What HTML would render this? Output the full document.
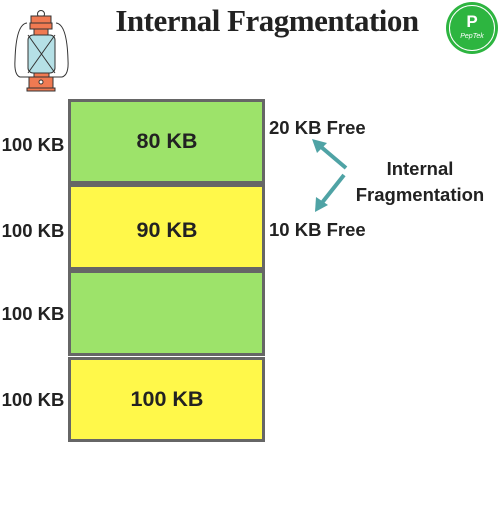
<!DOCTYPE html>
<html><head><style>
body{margin:0;width:500px;height:500px;background:#fff;overflow:hidden}
svg text{font-family:"Liberation Sans",sans-serif;font-weight:bold;fill:#222}
</style></head><body>
<svg width="500" height="500" viewBox="0 0 500 500">
<text x="267" y="31" text-anchor="middle" style="font-family:'Liberation Serif',serif;font-size:31px;font-weight:900;letter-spacing:-0.5px" fill="#222">Internal Fragmentation</text>
<!-- lantern -->
<g stroke="#333" stroke-width="1">
<circle cx="41" cy="14" r="3.5" fill="none"/>
<path d="M27 23 Q16 24 15 60 Q14 75 20 77 L62 77 Q69 75 68 60 Q67 24 56 23" fill="none"/>
<rect x="31" y="16" width="20" height="7" fill="#f07a52"/>
<rect x="30" y="23" width="22" height="6" fill="#f07a52"/>
<rect x="34" y="29" width="14" height="6" fill="#f07a52"/>
<rect x="28" y="35" width="27" height="38" rx="5" fill="#b5e0e6"/>
<path d="M28 35 L55 73 M55 35 L28 73"/>
<rect x="34" y="73" width="15" height="4" fill="#f07a52"/>
<rect x="29" y="77" width="24" height="11" fill="#f07a52"/>
<rect x="27" y="88" width="28" height="3" fill="#f07a52"/>
<circle cx="41" cy="82" r="2" fill="#fff"/>
</g>
<!-- logo -->
<circle cx="472" cy="28" r="26" fill="#2db540"/>
<circle cx="472" cy="28" r="22.5" fill="none" stroke="#fff" stroke-width="1"/>
<text x="472" y="27" text-anchor="middle" style="font-size:17px;fill:#fff">P</text>
<text x="472" y="38" text-anchor="middle" style="font-size:7px;fill:#fff;font-style:italic;font-weight:normal">PepTek</text>
<!-- boxes -->
<g stroke="#666" stroke-width="3">
<rect x="69.5" y="100.5" width="194" height="82" fill="#9de36a"/>
<rect x="69.5" y="185.5" width="194" height="83" fill="#fff84a"/>
<rect x="69.5" y="271.5" width="194" height="83" fill="#9de36a"/>
<rect x="69.5" y="358.5" width="194" height="82" fill="#fff84a"/>
</g>
<g style="font-size:21.5px" text-anchor="middle">
<text x="167" y="148">80 KB</text>
<text x="167" y="237">90 KB</text>
<text x="167" y="406">100 KB</text>
</g>
<g style="font-size:18.5px" text-anchor="middle">
<text x="33" y="151">100 KB</text>
<text x="33" y="237">100 KB</text>
<text x="33" y="320">100 KB</text>
<text x="33" y="406">100 KB</text>
</g>
<g style="font-size:18.5px">
<text x="269" y="134">20 KB Free</text>
<text x="269" y="236">10 KB Free</text>
</g>
<g style="font-size:18.5px" text-anchor="middle">
<text x="420" y="175">Internal</text>
<text x="420" y="201">Fragmentation</text>
</g>
<g stroke="#4fa3a5" stroke-width="4" fill="#4fa3a5">
<line x1="346" y1="168" x2="320" y2="146"/>
<line x1="344" y1="175" x2="321" y2="204"/>
<polygon stroke="none" points="312,139 327,143 317,153"/>
<polygon stroke="none" points="315,212 316,197 328,205"/>
</g>
</svg>
</body></html>
